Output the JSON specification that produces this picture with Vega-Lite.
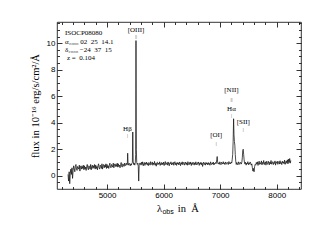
{
  "$schema": "https://vega.github.io/schema/vega-lite/v6.json",
  "width": 244,
  "height": 167,
  "autosize": {"type": "none"},
  "padding": {"left": 57, "top": 22, "right": 9, "bottom": 51},
  "background": "white",
  "config": {
    "view": {"stroke": "#000", "strokeWidth": 0.8},
    "axis": {"domain": false, "grid": false, "tickColor": "#000", "tickWidth": 0.8, "labelColor": "#000", "labelFont": "Liberation Sans", "labelFontSize": 8, "titleFont": "Liberation Serif", "titleFontSize": 10.5, "titleFontWeight": "normal", "titleColor": "#000"},
    "text": {"font": "Liberation Serif", "color": "#000"}
  },
  "datasets": {
    "spec": [
      {"w":4310,"f":0.1},{"w":4320,"f":-0.4},{"w":4330,"f":0.3},{"w":4340,"f":-0.6},{"w":4350,"f":0.2},{"w":4360,"f":0.5},{"w":4370,"f":0.1},{"w":4380,"f":0.6},{"w":4390,"f":-0.2},
      {"w":4400,"f":0.4},{"w":4410,"f":0.75},{"w":4420,"f":0.55},{"w":4430,"f":0.3},{"w":4440,"f":0.7},{"w":4450,"f":0.85},{"w":4460,"f":0.5},{"w":4470,"f":0.4},{"w":4480,"f":0.7},{"w":4490,"f":0.6},
      {"w":4500,"f":0.5},{"w":4510,"f":0.8},{"w":4520,"f":0.35},{"w":4530,"f":0.65},{"w":4540,"f":0.75},{"w":4550,"f":0.5},{"w":4560,"f":0.7},{"w":4570,"f":0.55},{"w":4580,"f":0.8},{"w":4590,"f":0.45},
      {"w":4600,"f":0.75},{"w":4610,"f":0.5},{"w":4620,"f":0.65},{"w":4630,"f":0.4},{"w":4640,"f":0.7},{"w":4650,"f":0.85},{"w":4660,"f":0.55},{"w":4670,"f":0.45},{"w":4680,"f":0.75},{"w":4690,"f":0.65},
      {"w":4700,"f":0.5},{"w":4710,"f":0.85},{"w":4720,"f":0.45},{"w":4730,"f":0.7},{"w":4740,"f":0.8},{"w":4750,"f":0.55},{"w":4760,"f":0.75},{"w":4770,"f":0.6},{"w":4780,"f":0.85},{"w":4790,"f":0.5},
      {"w":4800,"f":0.8},{"w":4810,"f":0.55},{"w":4820,"f":0.7},{"w":4830,"f":0.45},{"w":4840,"f":0.75},{"w":4850,"f":0.9},{"w":4860,"f":0.6},{"w":4870,"f":0.5},{"w":4880,"f":0.8},{"w":4890,"f":0.7},
      {"w":4900,"f":0.55},{"w":4910,"f":0.9},{"w":4920,"f":0.5},{"w":4930,"f":0.75},{"w":4940,"f":0.85},{"w":4950,"f":0.6},{"w":4960,"f":0.8},{"w":4970,"f":0.65},{"w":4980,"f":0.9},{"w":4990,"f":0.55},
      {"w":5000,"f":0.85},{"w":5010,"f":0.6},{"w":5020,"f":0.75},{"w":5030,"f":0.55},{"w":5040,"f":0.8},{"w":5050,"f":0.95},{"w":5060,"f":0.65},{"w":5070,"f":0.6},{"w":5080,"f":0.85},{"w":5090,"f":0.75},
      {"w":5100,"f":0.65},{"w":5110,"f":0.95},{"w":5120,"f":0.6},{"w":5130,"f":0.8},{"w":5140,"f":0.9},{"w":5150,"f":0.7},{"w":5160,"f":0.85},{"w":5170,"f":0.7},{"w":5180,"f":0.95},{"w":5190,"f":0.65},
      {"w":5200,"f":0.9},{"w":5210,"f":0.7},{"w":5220,"f":0.8},{"w":5230,"f":0.6},{"w":5240,"f":0.85},{"w":5250,"f":1.0},{"w":5260,"f":0.7},{"w":5270,"f":0.65},{"w":5280,"f":0.9},{"w":5290,"f":0.8},
      {"w":5300,"f":0.7},{"w":5310,"f":0.95},{"w":5320,"f":0.75},{"w":5330,"f":0.85},{"w":5340,"f":0.95},{"w":5350,"f":0.8},
      {"w":5358,"f":0.85},{"w":5365,"f":1.7},{"w":5372,"f":0.9},{"w":5380,"f":0.8},{"w":5390,"f":0.95},{"w":5400,"f":0.85},{"w":5410,"f":0.75},{"w":5420,"f":0.9},{"w":5430,"f":0.8},{"w":5440,"f":0.95},
      {"w":5448,"f":1.0},{"w":5455,"f":3.3},{"w":5462,"f":1.1},{"w":5470,"f":0.85},{"w":5480,"f":0.95},{"w":5490,"f":0.8},{"w":5500,"f":1.0},{"w":5506,"f":1.6},{"w":5512,"f":10.2},{"w":5518,"f":2.0},
      {"w":5525,"f":1.0},{"w":5535,"f":0.85},{"w":5545,"f":0.95},{"w":5552,"f":0.7},{"w":5560,"f":-0.4},{"w":5568,"f":0.8},{"w":5578,"f":0.95},
      {"w":5590,"f":0.95},{"w":5600,"f":0.8},{"w":5610,"f":1.02},{"w":5620,"f":0.85},{"w":5630,"f":1.05},{"w":5640,"f":0.75},{"w":5650,"f":0.9},{"w":5660,"f":1.0},{"w":5670,"f":0.78},{"w":5680,"f":0.98},
      {"w":5690,"f":0.88},{"w":5700,"f":1.03},{"w":5710,"f":0.82},{"w":5720,"f":0.94},{"w":5730,"f":0.76},{"w":5740,"f":1.0},{"w":5750,"f":0.92},{"w":5760,"f":0.8},{"w":5770,"f":1.06},{"w":5780,"f":0.84},
      {"w":5790,"f":0.9},{"w":5800,"f":1.04},{"w":5810,"f":0.79},{"w":5820,"f":0.96},{"w":5830,"f":0.86},{"w":5840,"f":1.08},{"w":5850,"f":0.8},{"w":5860,"f":0.93},{"w":5870,"f":0.72},{"w":5880,"f":0.98},
      {"w":5890,"f":1.02},{"w":5900,"f":0.83},{"w":5910,"f":0.95},{"w":5920,"f":0.87},{"w":5930,"f":1.05},{"w":5940,"f":0.78},{"w":5950,"f":0.92},{"w":5960,"f":1.0},{"w":5970,"f":0.82},{"w":5980,"f":0.97},
      {"w":5990,"f":0.85},{"w":6000,"f":1.03},{"w":6010,"f":0.77},{"w":6020,"f":0.94},{"w":6030,"f":1.07},{"w":6040,"f":0.83},{"w":6050,"f":0.9},{"w":6060,"f":0.99},{"w":6070,"f":0.8},{"w":6080,"f":1.04},
      {"w":6090,"f":0.88},{"w":6100,"f":0.75},{"w":6110,"f":0.97},{"w":6120,"f":0.91},{"w":6130,"f":1.05},{"w":6140,"f":0.82},{"w":6150,"f":0.95},{"w":6160,"f":0.86},{"w":6170,"f":1.02},{"w":6180,"f":0.79},
      {"w":6190,"f":0.93},{"w":6200,"f":1.06},{"w":6210,"f":0.84},{"w":6220,"f":0.96},{"w":6230,"f":0.78},{"w":6240,"f":1.01},{"w":6250,"f":0.89},{"w":6260,"f":0.97},{"w":6270,"f":0.81},{"w":6280,"f":1.04},
      {"w":6290,"f":0.92},{"w":6300,"f":0.76},{"w":6310,"f":0.99},{"w":6320,"f":0.87},{"w":6330,"f":1.05},{"w":6340,"f":0.83},{"w":6350,"f":0.94},{"w":6360,"f":1.02},{"w":6370,"f":0.8},{"w":6380,"f":0.9},
      {"w":6390,"f":1.03},{"w":6400,"f":0.85},{"w":6410,"f":0.97},{"w":6420,"f":0.79},{"w":6430,"f":1.06},{"w":6440,"f":0.9},{"w":6450,"f":0.82},{"w":6460,"f":1.0},{"w":6470,"f":0.88},{"w":6480,"f":1.04},
      {"w":6490,"f":0.77},{"w":6500,"f":0.95},{"w":6510,"f":0.86},{"w":6520,"f":1.03},{"w":6530,"f":0.91},{"w":6540,"f":0.8},{"w":6550,"f":0.98},{"w":6560,"f":0.84},{"w":6570,"f":1.05},{"w":6580,"f":0.89},
      {"w":6590,"f":0.81},{"w":6600,"f":0.99},{"w":6610,"f":0.92},{"w":6620,"f":1.04},{"w":6630,"f":0.78},{"w":6640,"f":0.95},{"w":6650,"f":0.87},{"w":6660,"f":1.02},{"w":6670,"f":0.83},{"w":6680,"f":0.97},
      {"w":6690,"f":0.7},{"w":6700,"f":0.9},{"w":6710,"f":1.03},{"w":6720,"f":0.85},{"w":6730,"f":0.94},{"w":6740,"f":0.8},{"w":6750,"f":1.01},{"w":6760,"f":0.88},{"w":6770,"f":0.96},{"w":6780,"f":0.82},
      {"w":6790,"f":1.0},{"w":6800,"f":0.86},{"w":6810,"f":0.93},{"w":6820,"f":0.79},{"w":6830,"f":1.05},{"w":6840,"f":0.9},{"w":6850,"f":0.84},{"w":6860,"f":0.98},{"w":6870,"f":0.88},{"w":6880,"f":1.03},
      {"w":6890,"f":0.81},{"w":6900,"f":0.95},{"w":6910,"f":0.9},{"w":6920,"f":1.0},{"w":6930,"f":0.92},
      {"w":6940,"f":1.2},{"w":6948,"f":1.45},{"w":6956,"f":1.0},{"w":6965,"f":0.9},
      {"w":6975,"f":0.98},{"w":6985,"f":0.86},{"w":6995,"f":1.05},{"w":7005,"f":0.92},{"w":7015,"f":0.83},{"w":7025,"f":1.02},{"w":7035,"f":0.95},{"w":7045,"f":0.88},{"w":7055,"f":1.06},{"w":7065,"f":0.9},
      {"w":7075,"f":0.97},{"w":7085,"f":0.84},{"w":7095,"f":1.04},{"w":7105,"f":0.93},{"w":7115,"f":0.87},{"w":7125,"f":1.01},{"w":7135,"f":0.95},{"w":7145,"f":0.85},{"w":7155,"f":1.07},{"w":7165,"f":0.92},
      {"w":7175,"f":0.98},{"w":7185,"f":0.89},{"w":7195,"f":1.03},{"w":7205,"f":0.96},
      {"w":7213,"f":1.2},{"w":7222,"f":1.6},{"w":7230,"f":2.6},{"w":7238,"f":4.3},{"w":7245,"f":3.1},{"w":7252,"f":2.6},{"w":7260,"f":2.3},{"w":7268,"f":1.6},{"w":7276,"f":1.1},{"w":7285,"f":0.85},
      {"w":7295,"f":1.0},{"w":7305,"f":0.9},{"w":7315,"f":0.82},{"w":7325,"f":1.05},{"w":7335,"f":0.93},{"w":7345,"f":0.86},{"w":7355,"f":1.02},{"w":7365,"f":0.95},{"w":7375,"f":0.88},{"w":7385,"f":1.05},
      {"w":7392,"f":1.35},{"w":7400,"f":1.9},{"w":7408,"f":2.0},{"w":7416,"f":1.6},{"w":7424,"f":1.2},{"w":7432,"f":0.95},
      {"w":7440,"f":0.88},{"w":7450,"f":1.02},{"w":7460,"f":0.8},{"w":7470,"f":0.96},{"w":7480,"f":0.9},{"w":7490,"f":1.06},{"w":7500,"f":0.83},{"w":7510,"f":0.95},{"w":7520,"f":0.87},{"w":7530,"f":1.04},
      {"w":7540,"f":0.92},{"w":7550,"f":0.8},{"w":7560,"f":0.9},
      {"w":7570,"f":0.6},{"w":7580,"f":0.35},{"w":7590,"f":0.55},{"w":7600,"f":0.3},{"w":7610,"f":0.7},{"w":7620,"f":0.85},
      {"w":7630,"f":0.8},{"w":7640,"f":1.0},{"w":7650,"f":0.88},{"w":7660,"f":1.05},{"w":7670,"f":0.78},{"w":7680,"f":0.96},{"w":7690,"f":1.1},{"w":7700,"f":0.85},{"w":7710,"f":0.98},{"w":7720,"f":0.9},
      {"w":7730,"f":1.12},{"w":7740,"f":0.82},{"w":7750,"f":1.0},{"w":7760,"f":0.92},{"w":7770,"f":1.15},{"w":7780,"f":0.84},{"w":7790,"f":0.97},{"w":7800,"f":1.05},{"w":7810,"f":0.8},{"w":7820,"f":1.08},
      {"w":7830,"f":0.93},{"w":7840,"f":0.86},{"w":7850,"f":1.1},{"w":7860,"f":0.95},{"w":7870,"f":0.82},{"w":7880,"f":1.04},{"w":7890,"f":0.9},{"w":7900,"f":1.15},{"w":7910,"f":0.87},{"w":7920,"f":0.98},
      {"w":7930,"f":1.06},{"w":7940,"f":0.84},{"w":7950,"f":1.0},{"w":7960,"f":0.93},{"w":7970,"f":1.12},{"w":7980,"f":0.8},{"w":7990,"f":1.02},{"w":8000,"f":0.95},{"w":8010,"f":1.1},{"w":8020,"f":0.86},
      {"w":8030,"f":0.99},{"w":8040,"f":1.08},{"w":8050,"f":0.88},{"w":8060,"f":1.13},{"w":8070,"f":0.92},{"w":8080,"f":1.0},{"w":8090,"f":0.84},{"w":8100,"f":1.1},{"w":8110,"f":0.96},{"w":8120,"f":1.05},
      {"w":8130,"f":0.9},{"w":8140,"f":1.18},{"w":8150,"f":0.86},{"w":8160,"f":1.02},{"w":8170,"f":1.12},{"w":8180,"f":0.94},{"w":8190,"f":1.2},{"w":8200,"f":0.9},{"w":8210,"f":1.25},{"w":8220,"f":1.0},
      {"w":8230,"f":1.3},{"w":8240,"f":0.95},{"w":8250,"f":1.15}
    ],
    "lines": [
      {"x":5513,"y":11.0,"t":"[OIII]"},
      {"x":5360,"y":3.55,"t":"Hβ"},
      {"x":6930,"y":3.05,"t":"[OI]"},
      {"x":7200,"y":6.5,"t":"[NII]"},
      {"x":7200,"y":5.05,"t":"Hα"},
      {"x":7410,"y":4.05,"t":"[SII]"}
    ],
    "marks": [
      {"x":5513,"y":10.55,"t":"||"},
      {"x":5360,"y":3.05,"t":"|"},
      {"x":6930,"y":2.5,"t":"|"},
      {"x":7200,"y":5.8,"t":"||"},
      {"x":7200,"y":4.55,"t":"|"},
      {"x":7410,"y":3.55,"t":"|"}
    ],
    "info": [
      {"x":4257,"y":10.75,"t":"ISOCP08080"},
      {"x":4257,"y":10.1,"t":"α₂₀₀₀ 02\u00a0\u00a025\u00a0\u00a014.1"},
      {"x":4257,"y":9.47,"t":"δ₂₀₀₀ −24\u00a0\u00a037\u00a0\u00a015"},
      {"x":4290,"y":8.85,"t":"z\u00a0=\u00a0\u00a00.104"}
    ],
    "xt1": [{"x":5885,"y":-2.72,"t":"λ"}],
    "xt2": [{"x":5980,"y":-2.9,"t":"obs"}],
    "xt3": [{"x":6250,"y":-2.72,"t":"in\u00a0\u00a0Å"}]
  },
  "resolve": {"axis": {"x": "independent", "y": "independent"}},
  "layer": [
    {
      "data": {"name": "spec"},
      "mark": {"type": "line", "stroke": "#111", "strokeWidth": 0.75},
      "encoding": {
        "x": {"field": "w", "type": "quantitative", "scale": {"domain": [4115, 8430], "nice": false, "zero": false},
              "axis": {"orient": "bottom", "values": [5000, 6000, 7000, 8000], "tickSize": -5, "labelPadding": 7, "title": null, "format": "d"}},
        "y": {"field": "f", "type": "quantitative", "scale": {"domain": [-1, 11.6], "nice": false, "zero": false},
              "axis": {"orient": "left", "values": [0, 2, 4, 6, 8, 10], "tickSize": -5, "labelPadding": 7, "title": "flux in 10⁻¹⁶ erg/s/cm²/Å", "titlePadding": 6}}
      }
    },
    {
      "data": {"name": "lines"},
      "mark": {"type": "text", "fontSize": 7, "baseline": "middle", "align": "center", "color": "#000"},
      "encoding": {
        "x": {"field": "x", "type": "quantitative", "scale": {"domain": [4115, 8430], "nice": false, "zero": false},
              "axis": {"orient": "bottom", "values": [4200,4400,4600,4800,5200,5400,5600,5800,6200,6400,6600,6800,7200,7400,7600,7800,8200,8400], "tickSize": -2.5, "labels": false, "title": null}},
        "y": {"field": "y", "type": "quantitative", "scale": {"domain": [-1, 11.6], "nice": false, "zero": false},
              "axis": {"orient": "left", "values": [-0.5,0.5,1,1.5,2.5,3,3.5,4.5,5,5.5,6.5,7,7.5,8.5,9,9.5,10.5,11,11.5], "tickSize": -2.5, "labels": false, "title": null}},
        "text": {"field": "t"}
      }
    },
    {
      "data": {"name": "marks"},
      "mark": {"type": "text", "fontSize": 5, "baseline": "middle", "align": "center", "color": "#333"},
      "encoding": {
        "x": {"field": "x", "type": "quantitative", "scale": {"domain": [4115, 8430], "nice": false, "zero": false},
              "axis": {"orient": "top", "values": [5000, 6000, 7000, 8000], "tickSize": -5, "labels": false, "title": null}},
        "y": {"field": "y", "type": "quantitative", "scale": {"domain": [-1, 11.6], "nice": false, "zero": false},
              "axis": {"orient": "right", "values": [0, 2, 4, 6, 8, 10], "tickSize": -5, "labels": false, "title": null}},
        "text": {"field": "t"}
      }
    },
    {
      "data": {"name": "info"},
      "mark": {"type": "text", "fontSize": 7, "baseline": "middle", "align": "left", "color": "#000"},
      "encoding": {
        "x": {"field": "x", "type": "quantitative", "scale": {"domain": [4115, 8430], "nice": false, "zero": false},
              "axis": {"orient": "top", "values": [4200,4400,4600,4800,5200,5400,5600,5800,6200,6400,6600,6800,7200,7400,7600,7800,8200,8400], "tickSize": -2.5, "labels": false, "title": null}},
        "y": {"field": "y", "type": "quantitative", "scale": {"domain": [-1, 11.6], "nice": false, "zero": false},
              "axis": {"orient": "right", "values": [-0.5,0.5,1,1.5,2.5,3,3.5,4.5,5,5.5,6.5,7,7.5,8.5,9,9.5,10.5,11,11.5], "tickSize": -2.5, "labels": false, "title": null}},
        "text": {"field": "t"}
      }
    },
    {
      "data": {"name": "xt1"},
      "mark": {"type": "text", "fontSize": 10.5, "baseline": "alphabetic", "align": "left", "color": "#000"},
      "encoding": {
        "x": {"field": "x", "type": "quantitative", "scale": {"domain": [4115, 8430], "nice": false, "zero": false}, "axis": null},
        "y": {"field": "y", "type": "quantitative", "scale": {"domain": [-1, 11.6], "nice": false, "zero": false}, "axis": null},
        "text": {"field": "t"}
      }
    },
    {
      "data": {"name": "xt2"},
      "mark": {"type": "text", "fontSize": 7, "baseline": "alphabetic", "align": "left", "font": "Liberation Sans", "color": "#000"},
      "encoding": {
        "x": {"field": "x", "type": "quantitative", "scale": {"domain": [4115, 8430], "nice": false, "zero": false}, "axis": null},
        "y": {"field": "y", "type": "quantitative", "scale": {"domain": [-1, 11.6], "nice": false, "zero": false}, "axis": null},
        "text": {"field": "t"}
      }
    },
    {
      "data": {"name": "xt3"},
      "mark": {"type": "text", "fontSize": 10.5, "baseline": "alphabetic", "align": "left", "color": "#000"},
      "encoding": {
        "x": {"field": "x", "type": "quantitative", "scale": {"domain": [4115, 8430], "nice": false, "zero": false}, "axis": null},
        "y": {"field": "y", "type": "quantitative", "scale": {"domain": [-1, 11.6], "nice": false, "zero": false}, "axis": null},
        "text": {"field": "t"}
      }
    }
  ]
}
